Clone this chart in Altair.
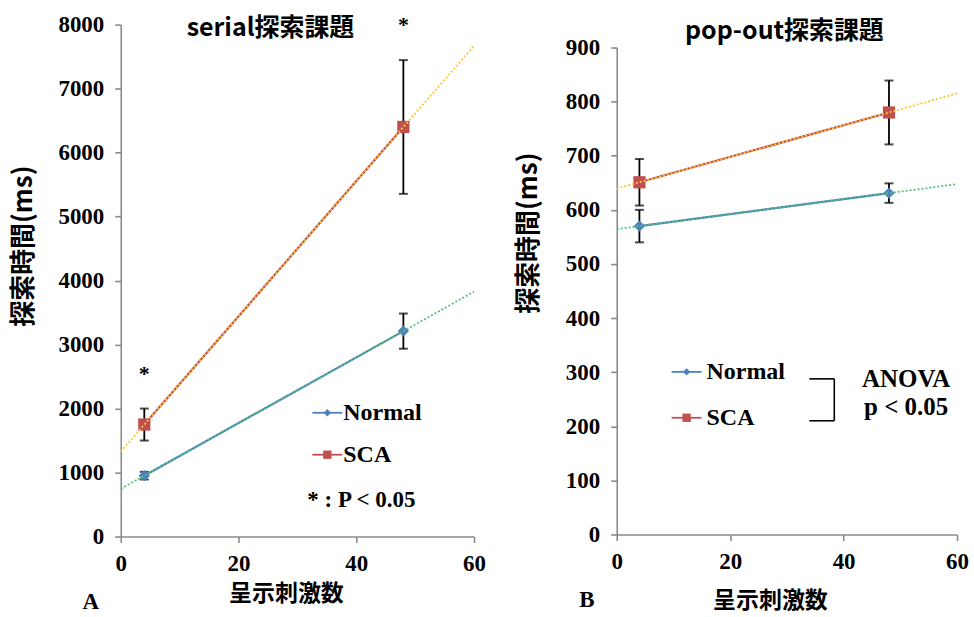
import altair as alt
import pandas as pd

# ---- data -------------------------------------------------------------
set_size = [4, 48]
groups = ["Normal", "SCA"]

serial_normal = [951, 3210]
serial_normal_err = [60, 275]
serial_sca = [1750, 6400]
serial_sca_err = [250, 1045]
serial_sig = [True, True]

pop_normal = [570, 631]
pop_normal_err = [30, 18]
pop_sca = [651, 780]
pop_sca_err = [43, 59]

series_colors = {"Normal": "#4F81BD", "SCA": "#C0504D"}
trend_colors = {"Normal": "#52C27E", "SCA": "#FFC433"}
shapes = {"Normal": "diamond", "SCA": "square"}

SERIF = "Liberation Serif"
CJK = "Noto Sans CJK JP"
AXIS_GREY = "#8A8A8A"


def frame(normal, normal_err, sca, sca_err):
    rows = []
    for g, vals, errs in (("Normal", normal, normal_err), ("SCA", sca, sca_err)):
        for n, v, e in zip(set_size, vals, errs):
            rows.append({"n": n, "rt": v, "lo": v - e, "hi": v + e, "group": g})
    return pd.DataFrame(rows)


def panel(df, ymax, ystep, w, h, y_range, bounds, extra_layers, stars=None):
    xs = alt.Scale(domain=[0, 60], nice=False)
    ys = alt.Scale(domain=[0, ymax], nice=False, range=y_range)
    x_axis = alt.Axis(values=[0, 20, 40, 60], title=None, labelFlush=False,
                      format="d")
    y_axis = alt.Axis(values=list(range(0, ymax + 1, ystep)), title=None,
                      format="d")
    x = alt.X("n:Q", scale=xs, axis=x_axis)

    def y(field):
        return alt.Y(f"{field}:Q", scale=ys, axis=y_axis)

    base = alt.Chart(df)
    layers = []
    # error bars with caps
    for g in groups:
        sub = base.transform_filter(alt.datum.group == g)
        layers.append(sub.mark_rule(color="black", strokeWidth=1.8).encode(
            x=x, y=y("lo"), y2="hi:Q"))
        for fld in ("lo", "hi"):
            layers.append(sub.mark_tick(color="black", orient="horizontal",
                                        size=9, thickness=2).encode(x=x, y=y(fld)))
    # series lines and markers
    for g in groups:
        sub = base.transform_filter(alt.datum.group == g)
        layers.append(sub.mark_line(color=series_colors[g], strokeWidth=2.2).encode(
            x=x, y=y("rt")))
        layers.append(sub.mark_point(shape=shapes[g], filled=True, opacity=1,
                                     color=series_colors[g],
                                     size=150 if g == "SCA" else 130).encode(
            x=x, y=y("rt")))
    # linear trendlines over the full x range
    for g in groups:
        sub = base.transform_filter(alt.datum.group == g)
        layers.append(
            sub.transform_regression("n", "rt", extent=[0, 60])
            .mark_line(color=trend_colors[g], strokeWidth=1.8, strokeDash=[2, 2])
            .encode(x=x, y=y("rt")))
    if stars is not None:
        layers.append(alt.Chart(stars).mark_text(
            text="*", font=SERIF, fontSize=22, fontWeight="bold",
            baseline="middle", dy=-35, color="black").encode(x=x, y=y("hi")))
    # invisible frame that fixes the panel's outer bounds
    left, right, top = bounds
    layers.append(alt.Chart(pd.DataFrame({"k": [0]})).mark_rule(
        opacity=0, strokeWidth=0.01).encode(
        x=alt.value(left), x2=alt.value(right), y=alt.value(top)))
    layers += extra_layers
    return alt.layer(*layers).properties(width=w, height=h)


def label(text, px, py, size, font=SERIF, align="left", angle=0, weight="bold"):
    return alt.Chart(pd.DataFrame({"t": [text]})).mark_text(
        align=align, baseline="middle", font=font, fontSize=size,
        fontWeight=weight, angle=angle, color="black").encode(
        x=alt.value(px), y=alt.value(py), text="t:N")


def legend_key(g, px, py, marker_size):
    d = pd.DataFrame({"k": [0]})
    line = alt.Chart(d).mark_rule(color=series_colors[g], strokeWidth=1.8).encode(
        x=alt.value(px - 15), x2=alt.value(px + 15), y=alt.value(py))
    pt = alt.Chart(d).mark_point(shape=shapes[g], filled=True, opacity=1,
                                 color=series_colors[g], size=marker_size).encode(
        x=alt.value(px), y=alt.value(py))
    return [line, pt]


# ---- panel A: serial search -----------------------------------------
serial = frame(serial_normal, serial_normal_err, serial_sca, serial_sca_err)
sig_points = serial[serial.group == "SCA"].copy()
sig_points["sig"] = serial_sig
sig_points = sig_points[sig_points.sig]

extra_a = [label("serial探索課題", 150, 3, 25, font=CJK, align="center"),
           label("探索時間(ms)", -97, 222, 26, font=CJK, align="center", angle=270),
           label("呈示刺激数", 166, 571, 23, font=CJK, align="center"),
           label("A", -30, 579, 23, align="center"),
           *legend_key("Normal", 207, 389, 55),
           label("Normal", 223, 389, 24),
           *legend_key("SCA", 207, 431, 70),
           label("SCA", 223, 431, 24),
           label("* : P < 0.05", 187, 476, 23)]

chart_a = panel(serial, 8000, 1000, 354, 513, [513, 0], (-116, 369, -19),
                extra_a, stars=sig_points)

# ---- panel B: pop-out search ----------------------------------------
pop = frame(pop_normal, pop_normal_err, pop_sca, pop_sca_err)
bracket = alt.Chart(pd.DataFrame({"k": [0]}))
extra_b = [label("pop-out探索課題", 168, 6, 25, font=CJK, align="center"),
           label("探索時間(ms)", -88, 209, 26, font=CJK, align="center", angle=270),
           label("呈示刺激数", 154, 578, 23, font=CJK, align="center"),
           label("B", -30, 577, 23, align="center"),
           *legend_key("Normal", 70, 348, 55),
           label("Normal", 90, 348, 24),
           *legend_key("SCA", 70, 394, 70),
           label("SCA", 90, 394, 24),
           bracket.mark_rule(color="black", strokeWidth=1.6).encode(
               x=alt.value(193), x2=alt.value(218), y=alt.value(355)),
           bracket.mark_rule(color="black", strokeWidth=1.6).encode(
               x=alt.value(193), x2=alt.value(218), y=alt.value(397)),
           bracket.mark_rule(color="black", strokeWidth=1.6).encode(
               x=alt.value(218), y=alt.value(355), y2=alt.value(397)),
           label("ANOVA", 290, 355, 25, align="center"),
           label("p < 0.05", 290, 383, 25, align="center")]

chart_b = panel(pop, 900, 100, 341, 511, [511, 23], (-118, 341, -19), extra_b)

chart = alt.hconcat(chart_a, chart_b, spacing=10).properties(
    padding=5, background="white"
).configure_view(stroke=None).configure_axis(
    domainColor=AXIS_GREY, domainWidth=1.6, tickColor=AXIS_GREY, tickWidth=1.6,
    tickSize=6, grid=False, labelFont=SERIF, labelFontWeight="bold",
    labelFontSize=23, labelColor="black", labelPadding=11
).configure_axisX(labelPadding=10)

chart.save("out.html", embed_options={"renderer": "svg", "actions": False})
